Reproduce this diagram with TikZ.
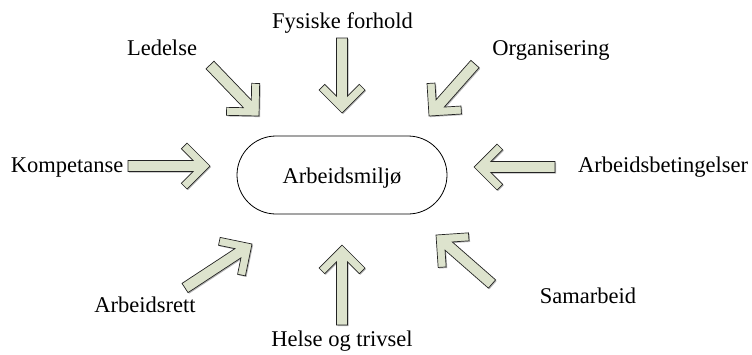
\documentclass[tikz,border=0pt]{standalone}
\usepackage{fontspec}
\setmainfont{Liberation Serif}
\usetikzlibrary{calc}

\definecolor{arrowfill}{RGB}{221,227,205}
\definecolor{arrowline}{RGB}{35,35,35}
\definecolor{arrowshade}{RGB}{120,120,120}

% Block arrow from coordinate #1 (tail) to coordinate #2 (tip):
% a straight shaft ending in a thick chevron head.
\newcommand\blockarrow[2]{%
  \pgfpointdiff{\pgfpointanchor{#1}{center}}{\pgfpointanchor{#2}{center}}%
  \pgfgetlastxy\ax\ay
  \pgfmathsetmacro\aang{atan2(\ay,\ax)}%
  \pgfmathsetmacro\alen{veclen(\ax,\ay)}%
  \def\arrowoutline{(0,0) -- (-23,23) -- (-28.66,17.34) -- (-16.81,5.5)
    -- (-\alen,5.5) -- (-\alen,-5.5) -- (-16.81,-5.5)
    -- (-28.66,-17.34) -- (-23,-23) -- cycle}%
  \begin{scope}[shift={(#2)}, xshift=1.1pt, yshift=-1.1pt, rotate=\aang]
    \fill[arrowshade, opacity=0.55] \arrowoutline;
  \end{scope}
  \begin{scope}[shift={(#2)}, rotate=\aang]
    \filldraw[fill=arrowfill, draw=arrowline, line width=0.7pt, line join=miter] \arrowoutline;
  \end{scope}}

\begin{document}
\begin{tikzpicture}[x=1pt, y=-1pt,
  lbl/.style={font=\fontsize{22.5}{25}\selectfont, anchor=base, inner sep=0pt},
  hub/.style={draw=black, line width=0.8pt, rounded corners=39pt,
    minimum width=210pt, minimum height=78pt, inner sep=0pt}]
\path[use as bounding box] (0,0) rectangle (752,354);

% central topic
\node[hub] (centre) at (342,175) {};
\node[lbl] (centretext) at (342,183) {Arbeidsmiljø};

% surrounding factors
\node[lbl] (fysisk) at (342.5,28) {Fysiske forhold};
\node[lbl] (ledelse) at (162,55) {Ledelse};
\node[lbl] (organ) at (551,55) {Organisering};
\node[lbl] (kompet) at (67,172) {Kompetanse};
\node[lbl] (betingelse) at (663,172) {Arbeidsbetingelser};
\node[lbl] (rett) at (145,312) {Arbeidsrett};
\node[lbl] (samarb) at (588,303) {Samarbeid};
\node[lbl] (helse) at (342,346) {Helse og trivsel};

% arrow tails and tips
\coordinate (fysiskA) at (342,38);   \coordinate (fysiskB) at (342,113);
\coordinate (ledelseA) at (210,65);  \coordinate (ledelseB) at (259,116);
\coordinate (organA) at (475,64);    \coordinate (organB) at (429,116);
\coordinate (kompetA) at (128,166);  \coordinate (kompetB) at (210,166);
\coordinate (betingA) at (555,167);  \coordinate (betingB) at (474,167);
\coordinate (rettA) at (185,288);    \coordinate (rettB) at (252,244);
\coordinate (helseA) at (342,325);   \coordinate (helseB) at (342,245);
\coordinate (samarbA) at (492,284);  \coordinate (samarbB) at (436,235);

\blockarrow{fysiskA}{fysiskB}
\blockarrow{ledelseA}{ledelseB}
\blockarrow{organA}{organB}
\blockarrow{kompetA}{kompetB}
\blockarrow{betingA}{betingB}
\blockarrow{rettA}{rettB}
\blockarrow{helseA}{helseB}
\blockarrow{samarbA}{samarbB}
\end{tikzpicture}
\end{document}
